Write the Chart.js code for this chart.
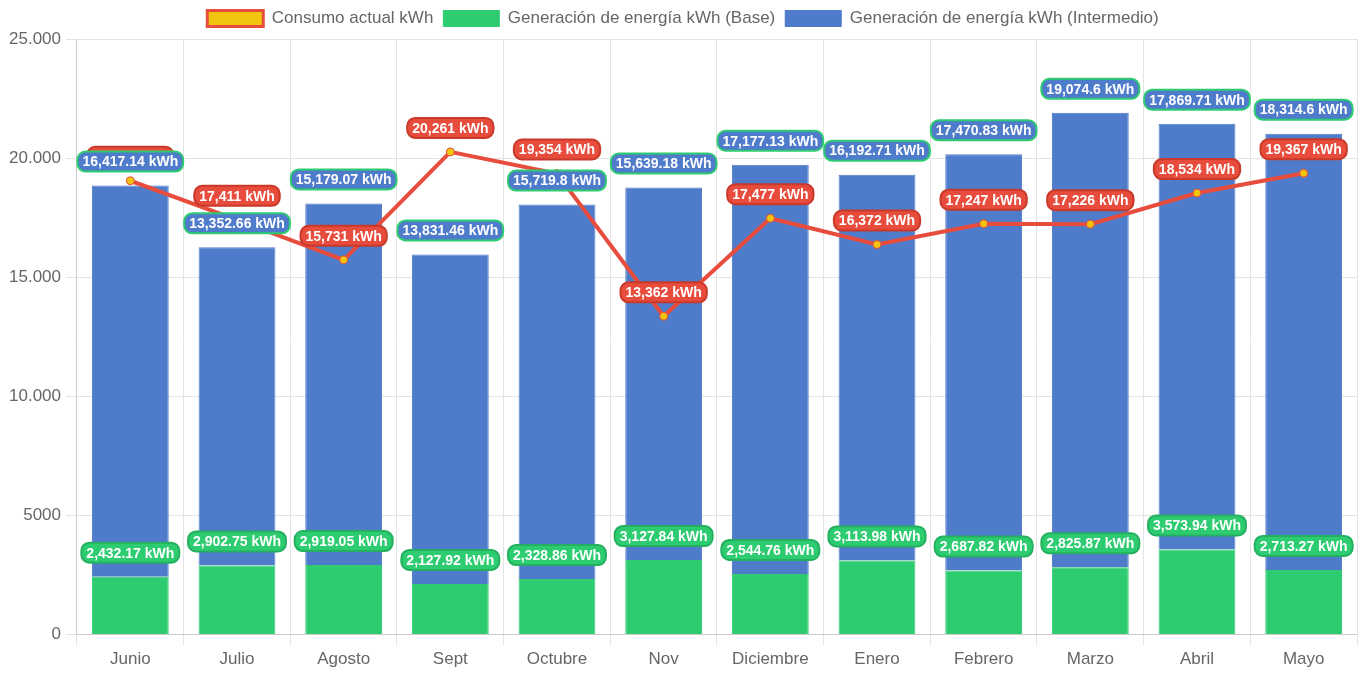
<!DOCTYPE html>
<html>
<head>
<meta charset="utf-8">
<script src="https://cdn.jsdelivr.net/npm/chart.js@4"></script>
<style>
  html, body { margin: 0; padding: 0; background: #fff; }
  #wrap { width: 1362px; height: 673px; }
</style>
</head>
<body>
<div id="wrap"><canvas id="chart"></canvas></div>
<script>
const meses = ['Junio', 'Julio', 'Agosto', 'Sept', 'Octubre', 'Nov', 'Diciembre', 'Enero', 'Febrero', 'Marzo', 'Abril', 'Mayo'];
const consumo = [19050, 17411, 15731, 20261, 19354, 13362, 17477, 16372, 17247, 17226, 18534, 19367];
const genBase = [2432.17, 2902.75, 2919.05, 2127.92, 2328.86, 3127.84, 2544.76, 3113.98, 2687.82, 2825.87, 3573.94, 2713.27];
const genIntermedio = [16417.14, 13352.66, 15179.07, 13831.46, 15719.8, 15639.18, 17177.13, 16192.71, 17470.83, 19074.6, 17869.71, 18314.6];

const rojo = '#e74c3c';
const verde = '#2ecc71';
const azul = '#4f7bcb';
const amarillo = '#f1c40f';

// label colours per dataset: [background, border]
const etiquetas = [
  ['#e74c3c', '#c9392a'],
  ['#2ecc71', '#25b05f'],
  ['#4f7bcb', '#2ecc71']
];

function roundRect(ctx, x, y, w, h, r) {
  ctx.beginPath();
  ctx.moveTo(x + r, y);
  ctx.lineTo(x + w - r, y);
  ctx.arcTo(x + w, y, x + w, y + r, r);
  ctx.lineTo(x + w, y + h - r);
  ctx.arcTo(x + w, y + h, x + w - r, y + h, r);
  ctx.lineTo(x + r, y + h);
  ctx.arcTo(x, y + h, x, y + h - r, r);
  ctx.lineTo(x, y + r);
  ctx.arcTo(x, y, x + r, y, r);
  ctx.closePath();
}

const pluginEtiquetas = {
  id: 'etiquetas',
  afterDatasetsDraw(chart) {
    const ctx = chart.ctx;
    ctx.save();
    ctx.font = 'bold 14px "Liberation Sans", Arial, sans-serif';
    ctx.textAlign = 'center';
    ctx.textBaseline = 'middle';
    chart.data.datasets.forEach((ds, i) => {
      const meta = chart.getDatasetMeta(i);
      meta.data.forEach((el, j) => {
        const txt = ds.data[j].toLocaleString('en-US') + ' kWh';
        const w = ctx.measureText(txt).width + 10;
        const h = 20;
        const cx = el.x;
        const cy = el.y - 24;
        roundRect(ctx, cx - w / 2, cy - h / 2, w, h, 8);
        ctx.fillStyle = etiquetas[i][0];
        ctx.fill();
        ctx.lineWidth = 2;
        ctx.strokeStyle = etiquetas[i][1];
        ctx.stroke();
        ctx.fillStyle = '#fff';
        ctx.fillText(txt, cx, cy + 1);
      });
    });
    ctx.restore();
  }
};

// a little extra room under the legend
const pluginHuecoLeyenda = {
  id: 'huecoLeyenda',
  beforeInit(chart) {
    const fit = chart.legend.fit;
    chart.legend.fit = function () {
      fit.bind(chart.legend)();
      this.height += 2;
    };
  }
};

Chart.defaults.font.family = '"Liberation Sans", Arial, sans-serif';
Chart.defaults.font.size = 17;
Chart.defaults.color = '#666';

new Chart(document.getElementById('chart'), {
  type: 'bar',
  data: {
    labels: meses,
    datasets: [
      {
        type: 'line',
        label: 'Consumo actual kWh',
        data: consumo,
        borderColor: rojo,
        backgroundColor: amarillo,
        borderWidth: 4,
        pointRadius: 4,
        pointBorderWidth: 1,
        pointBackgroundColor: amarillo,
        pointBorderColor: rojo,
        tension: 0
      },
      {
        label: 'Generación de energía kWh (Base)',
        data: genBase,
        backgroundColor: verde,
        borderColor: verde,
        borderWidth: 1,
        stack: 'gen'
      },
      {
        label: 'Generación de energía kWh (Intermedio)',
        data: genIntermedio,
        backgroundColor: azul,
        borderColor: azul,
        borderWidth: 1,
        stack: 'gen'
      }
    ]
  },
  options: {
    responsive: true,
    maintainAspectRatio: false,
    animation: false,
    locale: 'es-ES',
    layout: { padding: { left: 4 } },
    plugins: {
      legend: {
        labels: {
          boxWidth: 56,
          boxHeight: 16,
          generateLabels(chart) {
            const items = Chart.defaults.plugins.legend.labels.generateLabels(chart);
            items[0].lineWidth = 3;
            items[0].fillStyle = amarillo;
            items[0].strokeStyle = rojo;
            return items;
          }
        }
      },
      tooltip: { enabled: false }
    },
    scales: {
      x: {
        stacked: true,
        ticks: { padding: 3.5 },
        grid: { color: '#e4e4e4', tickLength: 11 }
      },
      y: {
        stacked: true,
        min: 0,
        max: 25000,
        ticks: { stepSize: 5000, padding: 5 },
        grid: { color: '#e4e4e4', tickLength: 11 }
      }
    }
  },
  plugins: [pluginEtiquetas, pluginHuecoLeyenda]
});
</script>
</body>
</html>
